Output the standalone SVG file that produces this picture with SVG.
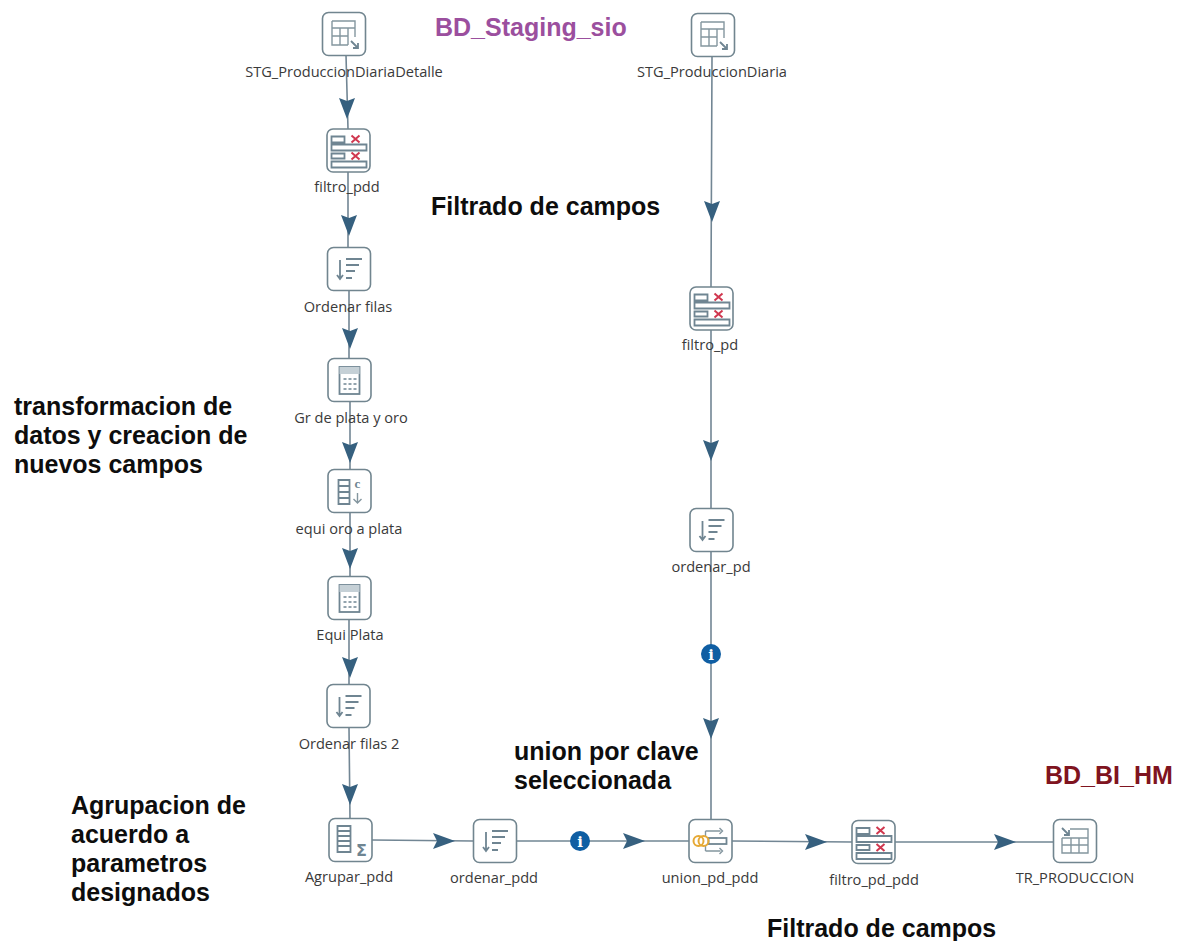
<svg xmlns="http://www.w3.org/2000/svg" width="1180" height="941" viewBox="0 0 1180 941">
<style>
.bg{fill:#fff}
.box{fill:#fff;stroke:#71858f;stroke-width:1.6}
.ic{fill:none;stroke:#84969f;stroke-width:1.4}
.icd{fill:none;stroke:#6f8592;stroke-width:1.8}
.x{fill:none;stroke:#d0374f;stroke-width:2}
.lbl{font:14.600px "Open Sans","Liberation Sans",sans-serif;fill:#3a3a3a;text-anchor:middle}
.note{font:bold 25px "Liberation Sans",Arial,sans-serif;fill:#0d0d0d}
.line{fill:none;stroke:#728694;stroke-width:1.6}
.head{fill:#36607f}
.info{fill:#0f5ea3}
.it{font:bold 15px "DejaVu Serif","Liberation Serif",serif;fill:#fff;text-anchor:middle}
</style>
<defs>
<g id="base"><rect class="box" x="-21.5" y="-21.5" width="43" height="43" rx="6"/></g>
<g id="i-in"><use href="#base"/><path class="ic" d="M-12,-13H11V3M-12,-13V11H4M-12,-6H11M-12,2H4M-4,-6V11M4,-6V11"/><path class="icd" d="M7,7L14,14M14,9V14H9"/></g>
<g id="i-out"><use href="#base"/><path class="ic" d="M-5,-12H13V12H-13V-3M-13,-3H13M-13,4H13M-4,-3V12M4,-3V12"/><path class="icd" d="M-13,-13L-6,-6M-11,-6H-6V-11"/></g>
<g id="i-filter"><use href="#base"/><path class="icd" d="M-17,-14H-4V-8H-17ZM-17,-6H18V0H-17ZM-17,3H-4V8H-17ZM-17,11H18V17H-17Z"/><path class="x" d="M3,-15L11,-8M11,-15L3,-8M3,2L11,9M11,2L3,9"/></g>
<g id="i-sort"><use href="#base"/><path class="icd" d="M-9,-9V10M-12,6L-9,10L-6,6M-3,-10H13M-3,-4H10M-3,2H6M-3,9H3"/></g>
<g id="i-calc"><use href="#base"/><rect class="icd" x="-10" y="-13" width="20" height="27"/><rect x="-10" y="-13" width="20" height="7" fill="#c5d0d6"/><path d="M-6,-1H-3M-1,-1H2M4,-1H7M-6,4H-3M-1,4H2M4,4H7M-6,9H-3M-1,9H2M4,9H7" stroke="#6f8592" stroke-width="1.6" fill="none"/></g>
<g id="i-col"><use href="#base"/><path class="icd" d="M-11,-11H0V13H-11ZM-11,-5H0M-11,1H0M-11,7H0"/><text x="8" y="-3" font-family="Liberation Serif,serif" font-size="13" font-weight="bold" fill="#6f8592" text-anchor="middle">c</text><path class="ic" d="M8,2V12M4,8L8,12L12,8"/></g>
<g id="i-sum"><use href="#base"/><path class="icd" d="M-13,-14H0V12H-13ZM-13,-9H0M-13,-4H0M-13,1H0M-13,6H0" stroke-width="1.500"/><text x="11" y="16" font-family="DejaVu Sans,sans-serif" font-size="16" font-weight="bold" fill="#6f8592" text-anchor="middle">Σ</text></g>
<g id="i-join"><use href="#base"/><path class="ic" d="M-5,-10H10M9,-13L12,-10L9,-7M-5,-10V-4M-5,10H10M9,7L12,10L9,13M-5,10V4"/><rect class="icd" x="-2" y="-3" width="18" height="6"/><circle cx="-12" cy="0" r="5" fill="none" stroke="#e6a935" stroke-width="2"/><circle cx="-7" cy="0" r="5" fill="none" stroke="#e6a935" stroke-width="2"/></g>
<g id="info"><circle class="info" r="10"/><text class="it" y="5.500">i</text></g>
<path id="hv" class="head" d="M-8,-21L0,-18L8,-21L0,0Z"/>
<path id="hh" class="head" d="M-22,-8L-18,0L-22,8L0,0Z"/>
</defs>
<rect class="bg" width="1180" height="941"/>
<g id="connectors">
<path class="line" d="M346,55L348,129M348,172V247M349,291V358M350,402V469M350,512V576M349,620V684M349,728L350,819"/>
<path class="line" d="M712,57L711,287M711,330V508M711,552V819"/>
<path class="line" d="M372,840L473,841M516,841H689M732,841L852,842M895,842H1053"/>
<use href="#hv" x="347" y="119"/><use href="#hv" x="349" y="236"/><use href="#hv" x="350" y="349"/><use href="#hv" x="350" y="463"/><use href="#hv" x="350" y="569"/><use href="#hv" x="350" y="678"/><use href="#hv" x="350" y="805"/>
<use href="#hv" x="712" y="222"/><use href="#hv" x="711" y="461"/><use href="#hv" x="711" y="739"/>
<use href="#hh" x="455" y="841"/><use href="#hh" x="645" y="841"/><use href="#hh" x="827" y="842"/><use href="#hh" x="1016" y="842"/>
<use href="#info" x="580" y="841"/>
<use href="#info" x="711" y="654"/>
</g>
<g id="n1"><use href="#i-in" x="344" y="34"/><text class="lbl" x="344" y="77">STG_ProduccionDiariaDetalle</text></g>
<g id="n2"><use href="#i-filter" x="348.500" y="150.500"/><text class="lbl" x="347" y="192">filtro_pdd</text></g>
<g id="n3"><use href="#i-sort" x="349" y="269"/><text class="lbl" x="348" y="312">Ordenar filas</text></g>
<g id="n4"><use href="#i-calc" x="349.500" y="380"/><text class="lbl" x="351" y="423">Gr de plata y oro</text></g>
<g id="n5"><use href="#i-col" x="349.500" y="491"/><text class="lbl" x="349" y="534">equi oro a plata</text></g>
<g id="n6"><use href="#i-calc" x="349.500" y="598"/><text class="lbl" x="350" y="640">Equi Plata</text></g>
<g id="n7"><use href="#i-sort" x="348.500" y="706"/><text class="lbl" x="349" y="749">Ordenar filas 2</text></g>
<g id="n8"><use href="#i-sum" x="350.500" y="840"/><text class="lbl" x="349" y="882">Agrupar_pdd</text></g>
<g id="n9"><use href="#i-sort" x="495" y="841"/><text class="lbl" x="494" y="883">ordenar_pdd</text></g>
<g id="n10"><use href="#i-join" x="710.500" y="841"/><text class="lbl" x="710" y="883">union_pd_pdd</text></g>
<g id="n11"><use href="#i-filter" x="873.500" y="842"/><text class="lbl" x="874" y="885">filtro_pd_pdd</text></g>
<g id="n12"><use href="#i-out" x="1075" y="841"/><text class="lbl" x="1075" y="883">TR_PRODUCCION</text></g>
<g id="n13"><use href="#i-in" x="713" y="35"/><text class="lbl" x="712" y="77">STG_ProduccionDiaria</text></g>
<g id="n14"><use href="#i-filter" x="711.500" y="308.500"/><text class="lbl" x="710" y="350">filtro_pd</text></g>
<g id="n15"><use href="#i-sort" x="711.500" y="530"/><text class="lbl" x="711" y="572">ordenar_pd</text></g>
<g id="notes">
<text class="note" x="435" y="36" style="fill:#9b4f9e">BD_Staging_sio</text>
<text class="note" x="431" y="215">Filtrado de campos</text>
<text class="note" x="14" y="415">transformacion de</text>
<text class="note" x="14" y="444">datos y creacion de</text>
<text class="note" x="14" y="473">nuevos campos</text>
<text class="note" x="514" y="760">union por clave</text>
<text class="note" x="514" y="789">seleccionada</text>
<text class="note" x="71" y="814">Agrupacion de</text>
<text class="note" x="71" y="843">acuerdo a</text>
<text class="note" x="71" y="872">parametros</text>
<text class="note" x="71" y="901">designados</text>
<text class="note" x="1045" y="784" style="fill:#7f1420">BD_BI_HM</text>
<text class="note" x="767" y="937">Filtrado de campos</text>
</g>
</svg>
